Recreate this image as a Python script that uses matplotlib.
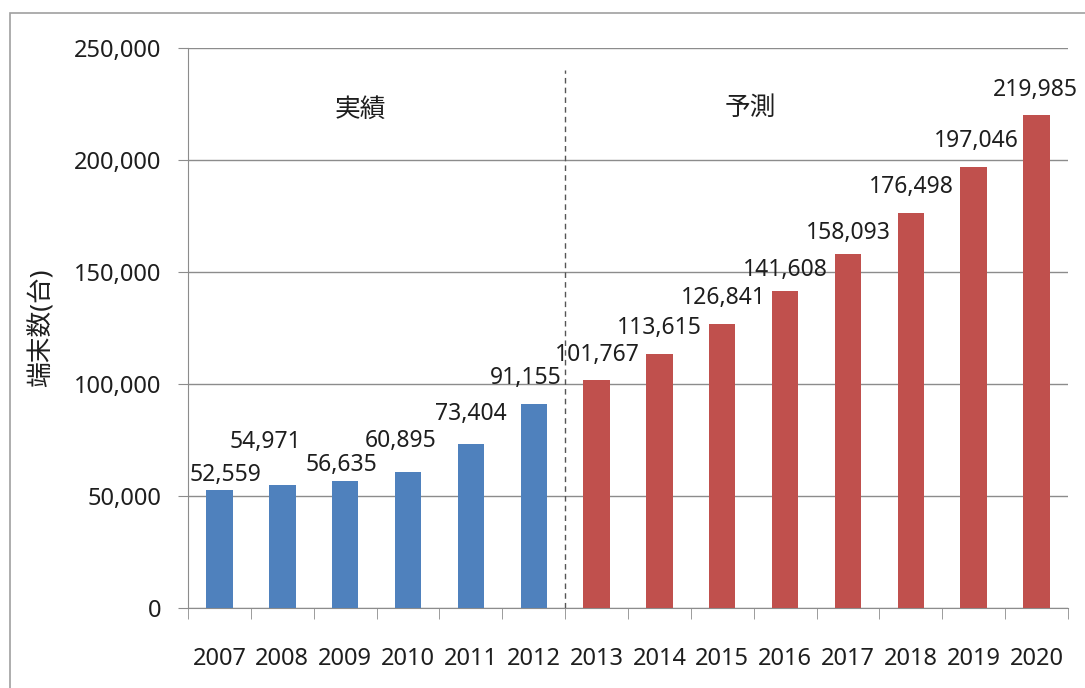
import matplotlib
matplotlib.use("Agg")
import matplotlib.pyplot as plt
from matplotlib.patches import Rectangle
from matplotlib.ticker import FuncFormatter, MultipleLocator

plt.rcParams["font.family"] = ["Noto Sans", "Noto Sans CJK JP", "DejaVu Sans"]

years = [str(y) for y in range(2007, 2021)]
actual = [52559, 54971, 56635, 60895, 73404, 91155]
forecast = [101767, 113615, 126841, 141608, 158093, 176498, 197046, 219985]

# label nudges in pixels (Excel placed the early ones oddly)
label_dx = [6, -17, -4, -7, 0, -8, 1, 0, 1, 0, 0, 1, 3, -1]
label_dy = [15, 43, 16, 31, 30, 26, 25, 26, 26, 21, 21, 26, 26, 25]

BLUE = "#4F81BD"
RED = "#C0504D"
GRID = "#8C8C8C"
TXT = "#1E1E1E"

fig = plt.figure(figsize=(10.85, 6.88), dpi=100)
ax = fig.add_axes([0.1733, 0.1163, 0.9843 - 0.1733, 0.9302 - 0.1163])

values = actual + forecast
colors = [BLUE] * len(actual) + [RED] * len(forecast)
x = list(range(len(years)))
ax.bar(x, values, width=0.42, color=colors, zorder=3)

for i, v in enumerate(values):
    ax.annotate(f"{v:,}", (x[i], v), xytext=(label_dx[i], label_dy[i]),
                textcoords="offset pixels", ha="center", va="center",
                fontsize=16.5, color=TXT, zorder=4)

ax.set_xlim(-0.5, len(years) - 0.5)
ax.set_ylim(0, 250000)
ax.yaxis.set_major_locator(MultipleLocator(50000))
ax.yaxis.set_major_formatter(FuncFormatter(lambda v, p: f"{int(v):,}"))
ax.grid(axis="y", color=GRID, lw=1, zorder=0)

ax.set_xticks(x)
ax.set_xticklabels(years)
ax.set_xticks([i - 0.5 for i in range(len(years) + 1)], minor=True)
ax.tick_params(axis="x", which="major", length=0, pad=28, labelsize=17, labelcolor=TXT)
ax.tick_params(axis="x", which="minor", length=8, color=GRID, direction="out")
ax.tick_params(axis="y", length=7, color=GRID, pad=12, labelsize=17, labelcolor=TXT)

for s in ("top", "right"):
    ax.spines[s].set_visible(False)
for s in ("left", "bottom"):
    ax.spines[s].set_color(GRID)

ax.axvline(len(actual) - 0.5, ymax=0.96, color="#555555", lw=1, ls=(0, (4, 3)), zorder=2)
ax.text(2.25, 222000, "実績", ha="center", va="center", fontsize=18.5, color=TXT)
ax.text(8.45, 223000, "予測", ha="center", va="center", fontsize=18.5, color=TXT)

ax.set_ylabel("端末数(台)", fontsize=18.5, color=TXT, labelpad=14)

fig.patches.append(Rectangle((10 / 1085, -0.1), 1.2, 1.1 - 13 / 688, transform=fig.transFigure,
                             fill=False, edgecolor="#A0A0A0", lw=1.2))

fig.savefig("out.png", dpi=100)
